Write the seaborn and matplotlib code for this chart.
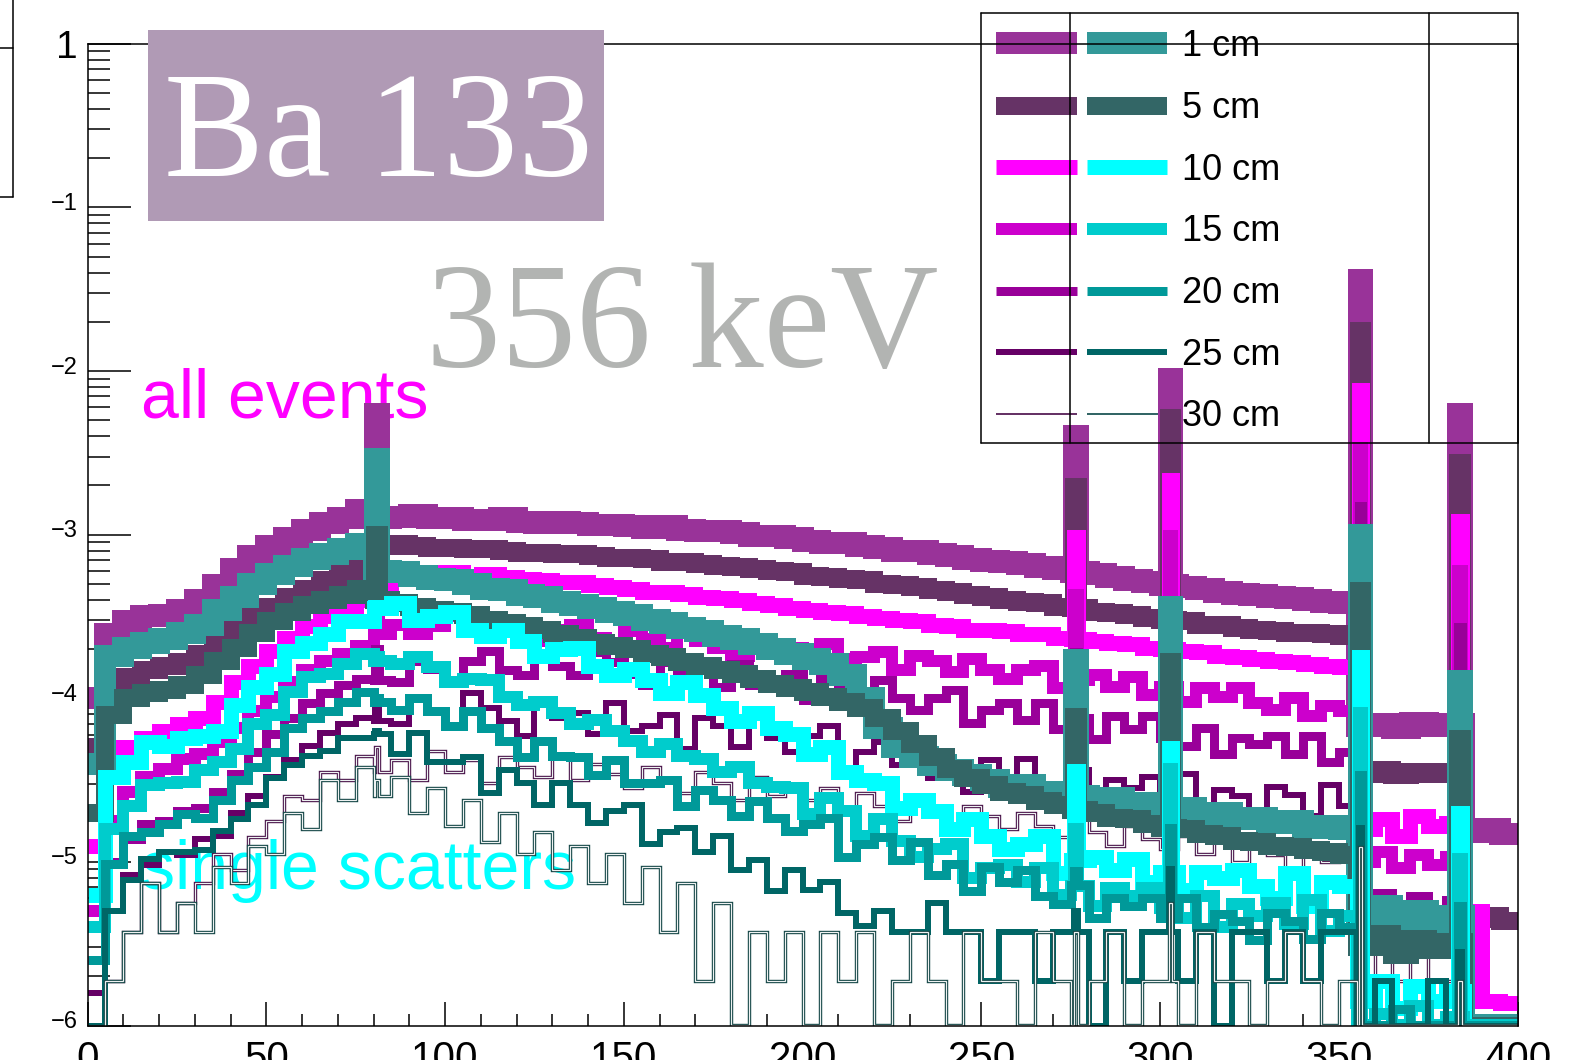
import numpy as np
import pandas as pd
import matplotlib
matplotlib.use("Agg")
import matplotlib.pyplot as plt
import matplotlib.patheffects as pe
from matplotlib.lines import Line2D
from matplotlib.patches import Rectangle
from matplotlib.transforms import ScaledTranslation
from matplotlib.ticker import FixedLocator, LogLocator, NullFormatter, MultipleLocator
import seaborn as sns

sns.set_theme(style="white")
plt.rcParams["font.family"] = ["Liberation Sans", "DejaVu Sans"]

# ---------------------------------------------------------------------------
# Ba-133 deposited-energy spectra, log10(rate) per 5 keV bin (0-400 keV),
# plus the photo-peak bins.  "all" = all events, "ss" = single scatters.
# ---------------------------------------------------------------------------
BIN_W = 5.0
PEAK_E = [81.0, 276.4, 302.9, 356.0, 383.9]
DEPTHS = ["1 cm", "5 cm", "10 cm", "15 cm", "20 cm", "25 cm", "30 cm"]

all_1cm = [-4.00, -3.61, -3.53, -3.50, -3.49, -3.46, -3.40, -3.31, -3.21, -3.13,
           -3.07, -3.02, -2.97, -2.93, -2.90, -2.85, -2.90, -2.89, -2.88, -2.90,
           -2.90, -2.91, -2.91, -2.90, -2.92, -2.93, -2.92, -2.93, -2.94, -2.94,
           -2.95, -2.96, -2.95, -2.97, -2.98, -2.98, -2.99, -3.01, -3.01, -3.02,
           -3.04, -3.05, -3.05, -3.07, -3.08, -3.10, -3.10, -3.12, -3.13, -3.15,
           -3.16, -3.17, -3.18, -3.20, -3.21, -3.23, -3.24, -3.26, -3.28, -3.29,
           -3.31, -3.32, -3.33, -3.35, -3.36, -3.37, -3.38, -3.39, -3.40, -3.41,
           -3.42, -4.17, -4.16, -4.18, -4.15, -4.17, -4.16, -4.82, -4.80, -4.83]
all_5cm = [-4.30, -3.95, -3.87, -3.83, -3.80, -3.78, -3.73, -3.66, -3.58, -3.50,
           -3.44, -3.38, -3.33, -3.28, -3.24, -3.18, -3.07, -3.06, -3.07, -3.08,
           -3.08, -3.09, -3.09, -3.10, -3.11, -3.11, -3.12, -3.12, -3.13, -3.14,
           -3.14, -3.15, -3.17, -3.17, -3.18, -3.19, -3.20, -3.21, -3.22, -3.23,
           -3.25, -3.26, -3.27, -3.28, -3.30, -3.31, -3.32, -3.34, -3.35, -3.37,
           -3.38, -3.40, -3.41, -3.42, -3.44, -3.45, -3.47, -3.48, -3.49, -3.51,
           -3.52, -3.53, -3.55, -3.55, -3.57, -3.58, -3.59, -3.60, -3.60, -3.61,
           -3.62, -4.46, -4.44, -4.47, -4.45, -4.46, -4.45, -5.35, -5.33, -5.36]
all_10cm = [-4.90, -4.40, -4.30, -4.24, -4.20, -4.16, -4.12, -4.02, -3.90, -3.80,
            -3.71, -3.63, -3.56, -3.50, -3.45, -3.40, -3.31, -3.27, -3.25, -3.24,
            -3.23, -3.25, -3.24, -3.26, -3.27, -3.28, -3.29, -3.29, -3.31, -3.32,
            -3.33, -3.35, -3.35, -3.36, -3.38, -3.39, -3.40, -3.42, -3.43, -3.45,
            -3.46, -3.47, -3.48, -3.50, -3.51, -3.52, -3.53, -3.55, -3.56, -3.58,
            -3.58, -3.59, -3.61, -3.61, -3.63, -3.64, -3.65, -3.66, -3.67, -3.69,
            -3.70, -3.71, -3.72, -3.74, -3.75, -3.76, -3.77, -3.78, -3.79, -3.80,
            -3.81, -4.80, -4.74, -4.84, -4.72, -4.78, -4.76, -5.30, -5.85, -5.86]
all_15cm = [-5.30, -4.75, -4.57, -4.48, -4.43, -4.37, -4.34, -4.27, -4.18, -4.08,
            -3.99, -3.90, -3.83, -3.77, -3.73, -3.68, -3.61, -3.55, -3.61, -3.56,
            -3.50, -3.58, -3.61, -3.54, -3.58, -3.65, -3.58, -3.55, -3.63, -3.66,
            -3.59, -3.64, -3.69, -3.60, -3.65, -3.69, -3.74, -3.65, -3.70, -3.69,
            -3.76, -3.67, -3.76, -3.75, -3.72, -3.83, -3.74, -3.77, -3.84, -3.76,
            -3.83, -3.88, -3.83, -3.80, -3.94, -3.89, -3.86, -3.93, -3.87, -3.98,
            -3.93, -4.02, -3.94, -3.99, -3.94, -4.03, -4.07, -4.00, -4.11, -4.05,
            -4.08, -5.00, -4.94, -5.04, -4.96, -5.02, -4.97, -6.30, -6.30, -6.30]
all_20cm = [-5.60, -5.00, -4.86, -4.77, -4.75, -4.69, -4.67, -4.57, -4.46, -4.33,
            -4.22, -4.12, -4.03, -3.97, -3.92, -3.88, -3.89, -3.90, -3.77, -3.82,
            -3.90, -3.77, -3.71, -3.83, -3.86, -3.74, -3.80, -3.86, -3.72, -3.78,
            -3.85, -3.92, -3.78, -3.85, -3.83, -3.93, -3.79, -3.92, -3.90, -3.85,
            -4.01, -3.88, -3.92, -4.03, -3.89, -4.00, -4.07, -4.00, -3.95, -4.15,
            -4.07, -4.03, -4.13, -4.03, -4.19, -4.12, -4.25, -4.11, -4.19, -4.11,
            -4.24, -4.29, -4.18, -4.34, -4.24, -4.28, -4.23, -4.34, -4.23, -4.39,
            -4.33, -5.25, -5.19, -5.31, -5.21, -5.29, -5.23, -6.30, -6.30, -6.30]
all_25cm = [-5.80, -5.30, -5.08, -5.02, -4.94, -4.96, -4.86, -4.84, -4.70, -4.60,
            -4.48, -4.38, -4.29, -4.21, -4.16, -4.12, -4.14, -4.16, -4.00, -4.08,
            -4.17, -3.97, -4.06, -4.14, -4.23, -4.03, -4.12, -4.09, -4.22, -4.03,
            -4.20, -4.17, -4.10, -4.31, -4.12, -4.17, -4.30, -4.11, -4.24, -4.33,
            -4.23, -4.17, -4.43, -4.33, -4.27, -4.41, -4.27, -4.49, -4.39, -4.57,
            -4.38, -4.48, -4.37, -4.54, -4.59, -4.44, -4.65, -4.50, -4.55, -4.48,
            -4.61, -4.46, -4.67, -4.56, -4.60, -4.73, -4.54, -4.59, -4.72, -4.53,
            -4.66, -5.40, -5.32, -5.46, -5.36, -5.44, -5.38, -6.30, -6.30, -6.30]
all_30cm = [-6.30, -5.73, -5.43, -5.13, -5.43, -5.25, -5.13, -4.95, -5.05, -4.85,
            -4.75, -4.60, -4.62, -4.45, -4.50, -4.35, -4.45, -4.38, -4.50, -4.32,
            -4.45, -4.38, -4.52, -4.36, -4.42, -4.48, -4.35, -4.50, -4.40, -4.46,
            -4.55, -4.42, -4.50, -4.58, -4.45, -4.52, -4.62, -4.48, -4.60, -4.55,
            -4.62, -4.55, -4.70, -4.58, -4.66, -4.75, -4.62, -4.70, -4.78, -4.66,
            -4.72, -4.80, -4.70, -4.78, -4.85, -4.74, -4.82, -4.90, -4.78, -4.86,
            -4.92, -4.84, -4.95, -4.88, -5.00, -4.90, -4.96, -5.05, -4.92, -5.00,
            -4.95, -5.73, -5.43, -5.73, -5.43, -6.30, -5.73, -6.30, -6.30, -6.30]

ss_1cm = [-4.40, -3.74, -3.69, -3.66, -3.64, -3.60, -3.55, -3.46, -3.38, -3.30,
          -3.24, -3.19, -3.15, -3.12, -3.09, -3.06, -3.22, -3.23, -3.25, -3.27,
          -3.28, -3.30, -3.33, -3.34, -3.37, -3.38, -3.41, -3.43, -3.45, -3.47,
          -3.49, -3.52, -3.54, -3.57, -3.59, -3.62, -3.64, -3.67, -3.70, -3.73,
          -3.76, -3.79, -3.86, -4.00, -4.18, -4.30, -4.36, -4.41, -4.44, -4.47,
          -4.50, -4.54, -4.53, -4.58, -4.57, -4.60, -4.62, -4.61, -4.65, -4.64,
          -4.68, -4.67, -4.71, -4.70, -4.74, -4.73, -4.76, -4.75, -4.79, -4.78,
          -4.80, -5.34, -5.27, -5.39, -5.30, -5.37, -5.33, -6.00, -6.00, -6.00]
ss_5cm = [-4.70, -4.10, -4.00, -3.97, -3.95, -3.92, -3.86, -3.77, -3.69, -3.60,
          -3.53, -3.47, -3.43, -3.40, -3.37, -3.33, -3.40, -3.42, -3.44, -3.46,
          -3.47, -3.49, -3.52, -3.54, -3.56, -3.58, -3.61, -3.63, -3.66, -3.68,
          -3.70, -3.73, -3.75, -3.78, -3.80, -3.83, -3.85, -3.88, -3.91, -3.94,
          -3.96, -3.99, -4.02, -4.06, -4.12, -4.20, -4.28, -4.36, -4.43, -4.49,
          -4.53, -4.57, -4.59, -4.63, -4.65, -4.68, -4.70, -4.73, -4.74, -4.77,
          -4.79, -4.80, -4.83, -4.84, -4.87, -4.88, -4.90, -4.91, -4.93, -4.94,
          -4.96, -5.52, -5.44, -5.57, -5.47, -5.54, -5.49, -6.00, -6.00, -6.00]
ss_10cm = [-5.20, -4.48, -4.39, -4.27, -4.29, -4.24, -4.23, -4.20, -4.04, -3.93,
           -3.85, -3.71, -3.66, -3.61, -3.53, -3.53, -3.45, -3.42, -3.52, -3.50,
           -3.47, -3.58, -3.62, -3.58, -3.65, -3.74, -3.70, -3.69, -3.80, -3.86,
           -3.82, -3.89, -3.97, -3.90, -3.98, -4.06, -4.14, -4.09, -4.18, -4.22,
           -4.34, -4.30, -4.45, -4.50, -4.52, -4.67, -4.62, -4.69, -4.80, -4.74,
           -4.84, -4.92, -4.89, -4.84, -5.07, -4.99, -4.97, -5.05, -4.98, -5.12,
           -5.06, -5.17, -5.06, -5.10, -5.05, -5.15, -5.22, -5.07, -5.27, -5.12,
           -5.15, -5.85, -5.73, -5.89, -5.76, -5.85, -5.79, -6.00, -6.00, -6.00]
ss_15cm = [-5.40, -4.80, -4.66, -4.53, -4.52, -4.51, -4.44, -4.39, -4.31, -4.16,
           -4.10, -3.96, -3.87, -3.85, -3.79, -3.73, -3.77, -3.79, -3.75, -3.81,
           -3.90, -3.88, -3.89, -3.99, -4.04, -4.02, -4.09, -4.16, -4.13, -4.20,
           -4.26, -4.33, -4.28, -4.35, -4.37, -4.45, -4.42, -4.52, -4.54, -4.55,
           -4.71, -4.61, -4.69, -4.84, -4.74, -4.87, -4.97, -4.92, -4.89, -5.10,
           -5.04, -5.02, -5.12, -5.04, -5.20, -5.15, -5.27, -5.16, -5.21, -5.16,
           -5.28, -5.34, -5.21, -5.40, -5.26, -5.33, -5.25, -5.38, -5.23, -5.42,
           -5.33, -6.00, -5.93, -6.00, -5.88, -6.00, -5.95, -6.00, -6.00, -6.00]
ss_20cm = [-5.60, -5.01, -4.84, -4.82, -4.77, -4.71, -4.73, -4.62, -4.50, -4.42,
           -4.33, -4.18, -4.12, -4.08, -4.02, -3.96, -4.02, -4.07, -4.00, -4.08,
           -4.17, -4.08, -4.18, -4.26, -4.36, -4.26, -4.35, -4.36, -4.47, -4.38,
           -4.52, -4.52, -4.50, -4.66, -4.56, -4.62, -4.72, -4.63, -4.73, -4.81,
           -4.77, -4.73, -4.97, -4.89, -4.85, -4.99, -4.88, -5.08, -5.01, -5.18,
           -5.03, -5.12, -5.05, -5.21, -5.26, -5.14, -5.34, -5.22, -5.27, -5.22,
           -5.34, -5.22, -5.40, -5.32, -5.36, -5.48, -5.31, -5.36, -5.47, -5.31,
           -5.40, -6.00, -6.00, -5.90, -6.00, -6.00, -6.00, -6.00, -6.00, -6.00]
ss_25cm = [-6.00, -5.30, -5.11, -4.98, -4.94, -4.94, -4.93, -4.81, -4.74, -4.65,
           -4.49, -4.41, -4.35, -4.32, -4.24, -4.24, -4.22, -4.34, -4.21, -4.39,
           -4.39, -4.36, -4.58, -4.44, -4.52, -4.65, -4.52, -4.65, -4.76, -4.69,
           -4.65, -4.89, -4.82, -4.79, -4.94, -4.84, -5.05, -4.99, -5.18, -5.05,
           -5.17, -5.12, -5.31, -5.39, -5.30, -5.43, -5.43, -5.25, -5.43, -5.43,
           -5.73, -5.43, -5.43, -5.73, -5.43, -5.43, -6.00, -5.43, -5.73, -5.43,
           -5.43, -5.73, -5.43, -6.00, -5.43, -5.43, -5.73, -5.43, -5.73, -5.43,
           -5.43, -6.00, -5.73, -6.00, -6.00, -5.73, -6.00, -6.00, -6.00, -6.00]
ss_30cm = [-6.00, -5.73, -5.43, -5.13, -5.43, -5.25, -5.43, -5.03, -5.13, -4.90,
           -4.95, -4.70, -4.80, -4.50, -4.62, -4.42, -4.60, -4.48, -4.70, -4.55,
           -4.78, -4.62, -4.88, -4.70, -4.95, -4.82, -5.05, -4.90, -5.13, -4.95,
           -5.25, -5.03, -5.43, -5.13, -5.73, -5.25, -6.00, -5.43, -5.73, -5.43,
           -6.00, -5.43, -5.73, -5.43, -6.00, -5.73, -5.43, -5.73, -6.00, -5.43,
           -5.73, -5.73, -6.00, -5.43, -5.73, -6.00, -5.73, -5.43, -6.00, -5.73,
           -5.73, -6.00, -5.43, -5.73, -5.73, -6.00, -5.73, -5.43, -5.73, -6.00,
           -5.73, -6.00, -6.00, -6.00, -6.00, -6.00, -6.00, -6.00, -6.00, -6.00]

# photo-peak heights (log10) at PEAK_E, one row per depth
all_peaks = [[-2.26, -2.40, -2.05, -1.445, -2.26],
             [-2.60, -2.71, -2.29, -1.757, -2.564],
             [-3.20, -3.017, -2.665, -2.114, -2.916],
             [-3.40, -3.371, -3.008, -2.472, -3.224],
             [-3.70, -3.72, -3.45, -2.824, -3.564],
             [-4.00, -3.95, -3.70, -3.15, -3.85],
             [-4.30, -4.30, -4.00, -3.45, -4.20]]
ss_peaks = [[-2.54, -3.765, -3.44, -3.004, -3.897],
            [-3.00, -4.117, -3.778, -3.347, -4.252],
            [-3.44, -4.445, -4.307, -3.747, -4.70],
            [-3.75, -4.80, -4.435, -4.087, -4.98],
            [-4.00, -5.056, -4.79, -4.469, -5.27],
            [-4.20, -5.30, -5.045, -4.79, -5.55],
            [-4.50, -5.43, -5.25, -4.91, -5.73]]

all_series = [all_1cm, all_5cm, all_10cm, all_15cm, all_20cm, all_25cm, all_30cm]
ss_series = [ss_1cm, ss_5cm, ss_10cm, ss_15cm, ss_20cm, ss_25cm, ss_30cm]

ALL_COLORS = ["#993399", "#663366", "#ff00ff", "#cc00cc", "#990099", "#660066", "#4a144a"]
SS_COLORS = ["#339999", "#336666", "#00ffff", "#00cccc", "#009999", "#006666", "#174848"]
LEG_ALL = ["#993399", "#663366", "#ff00ff", "#cc00cc", "#990099", "#660066", "#663366"]
LEG_SS = ["#339999", "#336666", "#00ffff", "#00cccc", "#009999", "#006666", "#336666"]
LINE_PX = [22, 18, 15, 12, 9, 6, 2]

# ---------------------------------------------------------------------------
W_PX, H_PX = 1578, 1060
PT = 72.0 / 100.0          # points per pixel at dpi=100
PEAK_HALF = 0.5
BASE_EDGES = np.arange(0.0, 400.0 + BIN_W / 2, BIN_W)


def spectrum_bins(base, peaks):
    """Fine bin edges, centres and log10 values: 5 keV continuum + peak bins."""
    extra = [p - PEAK_HALF for p in PEAK_E] + [p + PEAK_HALF for p in PEAK_E]
    edges = np.array(sorted(set(BASE_EDGES.tolist()) | set(extra)))
    mids = 0.5 * (edges[:-1] + edges[1:])
    vals = np.empty(len(mids))
    for k, m in enumerate(mids):
        hit = [j for j, p in enumerate(PEAK_E) if abs(m - p) < PEAK_HALF]
        vals[k] = peaks[hit[0]] if hit else base[min(int(m // BIN_W), len(base) - 1)]
    return edges, mids, vals


def fxy(px, py):
    return px / W_PX, 1.0 - py / H_PX


fig = plt.figure(figsize=(W_PX / 100, H_PX / 100), dpi=100)
fig.patch.set_facecolor("white")
ax = fig.add_axes([87.6 / W_PX, 34.5 / H_PX, (1517.6 - 87.6) / W_PX, (1025.5 - 43.8) / H_PX])
ax.set_facecolor("white")
ax.set_yscale("log")

hollow_all = [pe.Stroke(linewidth=3.4 * PT, foreground=ALL_COLORS[6]), pe.Normal()]
hollow_ss = [pe.Stroke(linewidth=3.4 * PT, foreground=SS_COLORS[6]), pe.Normal()]

layers = []
for i in range(7):
    layers.append((all_series[i], all_peaks[i], ALL_COLORS[i], i, hollow_all))
for i in range(7):
    layers.append((ss_series[i], ss_peaks[i], SS_COLORS[i], i, hollow_ss))

for base, peaks, color, i, hollow in layers:
    edges, mids, vals = spectrum_bins(base, peaks)
    spec = pd.DataFrame({"energy": mids, "rate": 10.0 ** vals})
    thin = i == 6
    sns.histplot(data=spec, x="energy", weights="rate", bins=list(edges),
                 element="step", fill=False,
                 color="#eef2f2" if thin else color,
                 linewidth=(1.2 if thin else LINE_PX[i]) * PT, ax=ax, zorder=2)
    line = ax.lines[-1]
    if thin:
        line.set_path_effects(hollow)
    line.set_solid_joinstyle("miter")
    line.set_solid_capstyle("butt")

ax.set_xlim(0, 400)
ax.set_ylim(1e-6, 1.0)
ax.set_xlabel("")
ax.set_ylabel("")

# axes frame and ticks
for sp in ax.spines.values():
    sp.set_color("black")
    sp.set_linewidth(1.1)
    sp.set_zorder(5)

ax.xaxis.set_major_locator(FixedLocator(np.arange(0, 401, 50)))
ax.xaxis.set_minor_locator(MultipleLocator(10))
ax.set_xticklabels([str(v) for v in range(0, 401, 50)])
ax.yaxis.set_major_locator(FixedLocator([10.0 ** k for k in range(0, -7, -1)]))
ax.yaxis.set_minor_locator(LogLocator(base=10, subs=np.arange(2, 10)))
ax.yaxis.set_minor_formatter(NullFormatter())
ax.set_yticklabels(["1", "\u22121", "\u22122", "\u22123", "\u22124", "\u22125", "\u22126"])

ax.tick_params(axis="both", which="both", direction="in", colors="black",
               bottom=True, left=True, top=False, right=False, width=1.1)
ax.tick_params(axis="y", which="major", length=31, pad=7)
ax.tick_params(axis="y", which="minor", length=16)
ax.tick_params(axis="x", which="major", length=17, pad=10.5, labelsize=29)
ax.tick_params(axis="x", which="minor", length=8.6)
raise_label = ScaledTranslation(0, 0.06, fig.dpi_scale_trans)
for k, lab in enumerate(ax.get_yticklabels()):
    if k == 0:
        lab.set_fontsize(28)
    else:
        lab.set_fontsize(17)
        lab.set_transform(lab.get_transform() + raise_label)
ax.grid(False)

# annotations inside the frame
ax.text(141 / W_PX, 1 - 418 / H_PX, "all events", transform=fig.transFigure,
        color="#ff00ff", fontsize=49, ha="left", va="baseline", zorder=1)
ax.text(141 / W_PX, 1 - 889 / H_PX, "single scatters", transform=fig.transFigure,
        color="#00ffff", fontsize=49, ha="left", va="baseline", zorder=1)

# legend: depth samples for all events / single scatters
ROW_Y = [43.3, 105.7, 167.1, 228.5, 290.8, 352.2, 413.6]
for k, lab in enumerate(DEPTHS):
    y = 1 - ROW_Y[k] / H_PX
    lw = LINE_PX[k] * PT
    ax.add_line(Line2D([996 / W_PX, 1077 / W_PX], [y, y], transform=fig.transFigure,
                       color=LEG_ALL[k], lw=lw, solid_capstyle="butt", clip_on=False, zorder=1))
    ax.add_line(Line2D([1087 / W_PX, 1167 / W_PX], [y, y], transform=fig.transFigure,
                       color=LEG_SS[k], lw=lw, solid_capstyle="butt", clip_on=False, zorder=1))
    ax.text(1182 / W_PX, 1 - (ROW_Y[k] + 3) / H_PX, lab, transform=fig.transFigure,
            fontsize=26, ha="left", va="center", color="black", zorder=1, clip_on=False)

# frame lines of the legend block and neighbouring pads
frame_segments = [
    ((981, 13), (1518, 13)), ((981, 443), (1518, 443)),
    ((981, 13), (981, 443)), ((1518, 13), (1518, 443)),
    ((1070, 13), (1070, 443)), ((1429, 13), (1429, 443)),
    ((13, 0), (13, 197)), ((0, 197), (13, 197)), ((0, 48), (13, 48)),
]
for (x0, y0), (x1, y1) in frame_segments:
    (a0, b0), (a1, b1) = fxy(x0, y0), fxy(x1, y1)
    ax.add_line(Line2D([a0, a1], [b0, b1], transform=fig.transFigure, color="black",
                       lw=1.1, clip_on=False, zorder=6))

# title boxes
fig.add_artist(Rectangle(fxy(148, 221), (604 - 148) / W_PX, (221 - 30) / H_PX,
                         transform=fig.transFigure, facecolor="#b09ab5", edgecolor="none", zorder=3))
fig.text(164 / W_PX, 1 - 176 / H_PX, "Ba 133", family=["Liberation Serif", "DejaVu Serif"],
         fontsize=108, color="white", ha="left", va="baseline", zorder=4)
fig.text(426 / W_PX, 1 - 367 / H_PX, "356 keV", family=["Liberation Serif", "DejaVu Serif"],
         fontsize=108, color="#b2b4b2", ha="left", va="baseline", zorder=4)

fig.savefig("out.png", dpi=100)
